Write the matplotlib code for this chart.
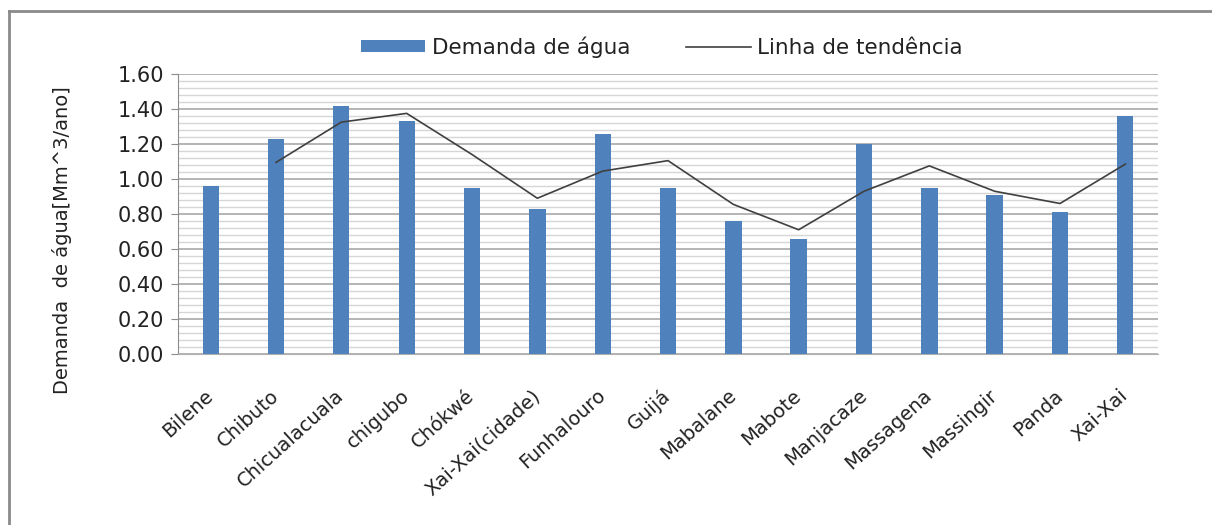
import numpy as np
import pandas as pd
import matplotlib
matplotlib.use("Agg")
import matplotlib.pyplot as plt
from matplotlib.lines import Line2D
from matplotlib.ticker import MultipleLocator

distritos = ["Bilene", "Chibuto", "Chicualacuala", "chigubo", "Chókwé",
             "Xai-Xai(cidade)", "Funhalouro", "Guijá", "Mabalane", "Mabote",
             "Manjacaze", "Massagena", "Massingir", "Panda", "Xai-Xai"]
demanda = [0.96, 1.23, 1.42, 1.33, 0.95, 0.83, 1.26, 0.95, 0.76, 0.66,
           1.20, 0.95, 0.91, 0.81, 1.36]
y_ticks = [0.0, 0.2, 0.4, 0.6, 0.8, 1.0, 1.2, 1.4, 1.6]

# media movel de 2 periodos (linha de tendencia)
tendencia = pd.Series(demanda).rolling(2).mean()

plt.rcParams['font.family'] = ['DejaVu Sans']

fig = plt.figure(figsize=(12.12, 5.25), dpi=100)
W, H = 1212, 525
ax = fig.add_axes([178 / W, 1 - 354 / H, (1158 - 178) / W, (354 - 74) / H])

x = np.arange(len(distritos))
barras = ax.bar(x, demanda, width=0.25, color="#4F81BD", zorder=3,
                label="Demanda de água")
linha, = ax.plot(x, tendencia, color="#404040", lw=1.2, zorder=4,
                 label="Linha de tendência")

ax.set_xlim(-0.5, len(distritos) - 0.5)
ax.set_ylim(0, 1.6)
ax.set_yticks(y_ticks)
ax.set_yticklabels([f"{v:.2f}" for v in y_ticks])
ax.yaxis.set_minor_locator(MultipleLocator(0.04))
ax.grid(axis="y", which="major", color="#A0A0A0", lw=1.1, zorder=0)
ax.grid(axis="y", which="minor", color="#D6D6D6", lw=1.0, zorder=0)

for s in ["top", "right"]:
    ax.spines[s].set_visible(False)
ax.spines["left"].set_color("#8C8C8C")
ax.spines["bottom"].set_color("#B0B0B0")
ax.tick_params(axis="y", which="major", length=5, color="#8C8C8C",
               labelsize=15, labelcolor="#222222", pad=5)
ax.tick_params(axis="y", which="minor", length=0)
ax.tick_params(axis="x", length=0, pad=28)

ax.set_xticks(x)
ax.set_xticklabels(distritos, rotation=42, ha="right", va="center",
                   rotation_mode="anchor", fontsize=14, color="#222222")

fig.text(62 / W, 1 - 240 / H, "Demanda  de água[Mm^3/ano]", rotation=90,
         ha="center", va="center", fontsize=14, color="#222222")

fig.legend(handles=[barras, linha], loc="center",
           bbox_to_anchor=(662 / W, 1 - 47 / H), ncol=2,
           frameon=False, fontsize=15.5, handlelength=3.0, handleheight=0.5,
           handletextpad=0.3, columnspacing=2.6, labelcolor="#222222")

# moldura do grafico
fig.add_artist(Line2D([9 / W, 9 / W], [0, 1 - 11 / H], color="#8A8A8A",
                      lw=2, transform=fig.transFigure))
fig.add_artist(Line2D([9 / W, 1], [1 - 11 / H, 1 - 11 / H], color="#8A8A8A",
                      lw=2, transform=fig.transFigure))

fig.savefig("out.png", dpi=100)
